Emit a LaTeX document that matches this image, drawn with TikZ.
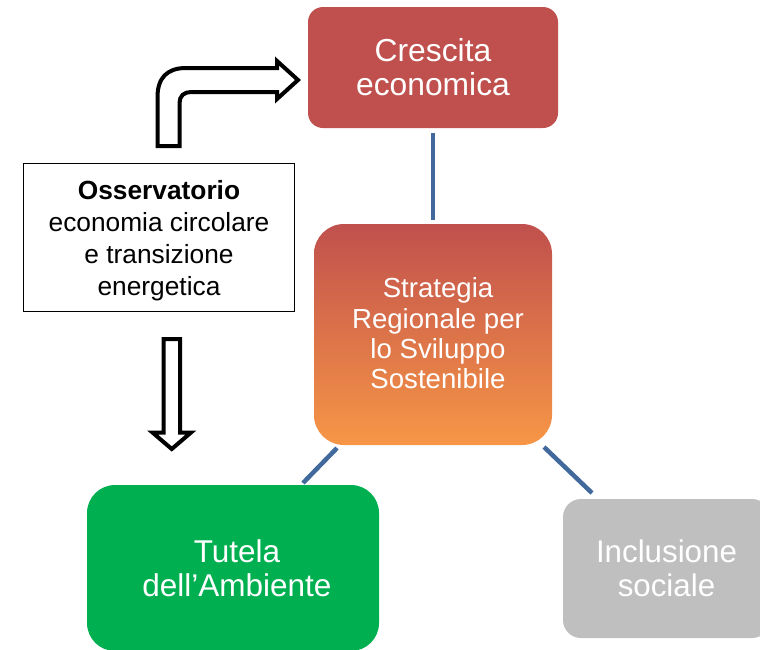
\documentclass[tikz,border=0pt]{standalone}
\usepackage{fontspec}
\setmainfont{Liberation Sans}
\usetikzlibrary{calc}
\definecolor{cred}{HTML}{C0504D}
\definecolor{corange}{HTML}{F79646}
\definecolor{cgreen}{HTML}{00B050}
\definecolor{cgray}{HTML}{BFBFBF}
\definecolor{cline}{HTML}{41699C}
\begin{document}
\begin{tikzpicture}[x=1pt,y=-1pt,
  box/.style={inner sep=0pt,align=center,text=white},
  conn/.style={draw=cline,line width=4.5pt},
  hollowarrow/.style={draw=black,fill=white,line width=4pt,line join=miter,miter limit=10}]
\useasboundingbox (0,0) rectangle (760,649);
\begin{scope}
\clip (0,0) rectangle (760,649);
% boxes
\node[box,fill=cred,rounded corners=15pt,minimum width=250pt,minimum height=121pt,
  font={\fontsize{31.8}{34}\selectfont}] (cresc) at (433,67.5) {Crescita\\economica};
\node[inner sep=0pt,top color=cred,bottom color=corange,shading=axis,draw=none,
  rounded corners=30pt,minimum width=238pt,minimum height=221pt] (strat) at (433,334.5) {};
\node[box,font={\fontsize{27.6}{30.4}\selectfont}] (stratlabel) at ($(strat.center)+(5,-1)$)
  {Strategia\\Regionale per\\lo Sviluppo\\Sostenibile};
\node[inner sep=0pt,fill=cgreen,rounded corners=28pt,minimum width=292pt,minimum height=166pt]
  (tutela) at (233,568) {};
\node[box,font={\fontsize{31.5}{34}\selectfont}] (tutelalabel) at ($(tutela.center)+(4,0)$)
  {Tutela\\dell’Ambiente};
\node[box,fill=cgray,rounded corners=18pt,minimum width=207pt,minimum height=139pt,
  font={\fontsize{31.3}{34}\selectfont}] (incl) at (666.5,568.5) {Inclusione\\sociale};
\node[draw=black,line width=1.5pt,inner sep=0pt,align=center,text depth=0pt,
  minimum width=270.6pt,minimum height=147.6pt,
  font={\fontsize{26.3}{32}\selectfont}] (oss) at (159,237.5)
  {\textbf{Osservatorio}\\economia circolare\\e transizione\\energetica};
% connectors
\draw[conn,shorten <=5pt,shorten >=4pt] (cresc) -- (strat);
\coordinate (d1a) at (337,448);
\coordinate (d1b) at (303,483);
\coordinate (d2a) at (544,447);
\coordinate (d2b) at (592,493);
\draw[conn] (d1a) -- (d1b);
\draw[conn] (d2a) -- (d2b);
% bent arrow
\path[hollowarrow] (157.5,146) -- (157.5,97) .. controls (157.5,78) and (167,68) .. (186,68)
  -- (277,68) -- (277,61) -- (298,80) -- (277,99) -- (277,92) -- (191,92)
  .. controls (184,92) and (179.5,96) .. (179.5,103) -- (179.5,146) -- cycle;
% down arrow
\path[hollowarrow] (163.5,339) -- (180,339) -- (180,432.5) -- (191,432.5) -- (171.75,449)
  -- (152.5,432.5) -- (163.5,432.5) -- cycle;
\end{scope}
\end{tikzpicture}
\end{document}
